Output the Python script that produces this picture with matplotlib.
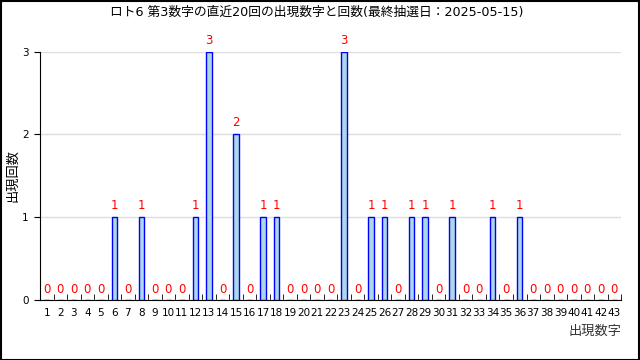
import numpy as np
import matplotlib
matplotlib.use('Agg')
import matplotlib.pyplot as plt
from matplotlib.patches import Rectangle

plt.rcParams['font.family'] = ['DejaVu Sans', 'Noto Sans CJK JP']
plt.rcParams['font.size'] = 7.5

numbers = list(range(1, 44))
hit_nums = [6, 8, 12, 13, 15, 17, 18, 23, 25, 26, 28, 29, 31, 34, 36]
hit_counts = [1, 1, 1, 3, 2, 1, 1, 3, 1, 1, 1, 1, 1, 1, 1]
counts = [0] * len(numbers)
for n, c in zip(hit_nums, hit_counts):
    counts[n - 1] = c

title = 'ロト6 第3数字の直近20回の出現数字と回数(最終抽選日：2025-05-15)'

fig = plt.figure(figsize=(6.4, 3.6), dpi=100)
ax = fig.add_axes([0.0625, 0.1667, 0.908, 0.69])

ax.bar(numbers, counts, width=0.4, color='#add8e6', edgecolor='blue', linewidth=1, zorder=3)
for n, c in zip(numbers, counts):
    if c > 0:
        ax.text(n, c + 0.06, str(c), color='red', ha='center', va='bottom', fontsize=8.5, clip_on=False)
    else:
        ax.text(n, 0.05, '0', color='red', ha='center', va='bottom', fontsize=8.5)

ax.set_xlim(0.5, 43.5)
ax.set_ylim(0, 3)
ax.set_yticks([0, 1, 2, 3])
ax.set_xticks(numbers)
ax.set_xticks(np.arange(1.5, 44, 1), minor=True)
ax.tick_params(axis='x', which='major', length=0, pad=6)
ax.tick_params(axis='x', which='minor', direction='in', length=4)
ax.tick_params(axis='y', direction='out', length=4, pad=4)
ax.grid(axis='y', color='#dddddd', linewidth=1, zorder=0)
for s in ['top', 'right']:
    ax.spines[s].set_visible(False)

ax.set_ylabel('出現回数', fontsize=9.5)
ax.yaxis.set_label_coords(-0.036, 0.5)
ax.set_xlabel('出現数字', fontsize=9.5, color='#333333', ha='right')
ax.xaxis.set_label_coords(1.0, -0.1)

fig.text(0.495, 0.965, title, ha='center', va='center', fontsize=9.2)
fig.patches.append(Rectangle((0.001, 0.001), 0.997, 0.997, transform=fig.transFigure,
                             fill=False, edgecolor='black', linewidth=1.5))

fig.savefig('out.png', dpi=100)
